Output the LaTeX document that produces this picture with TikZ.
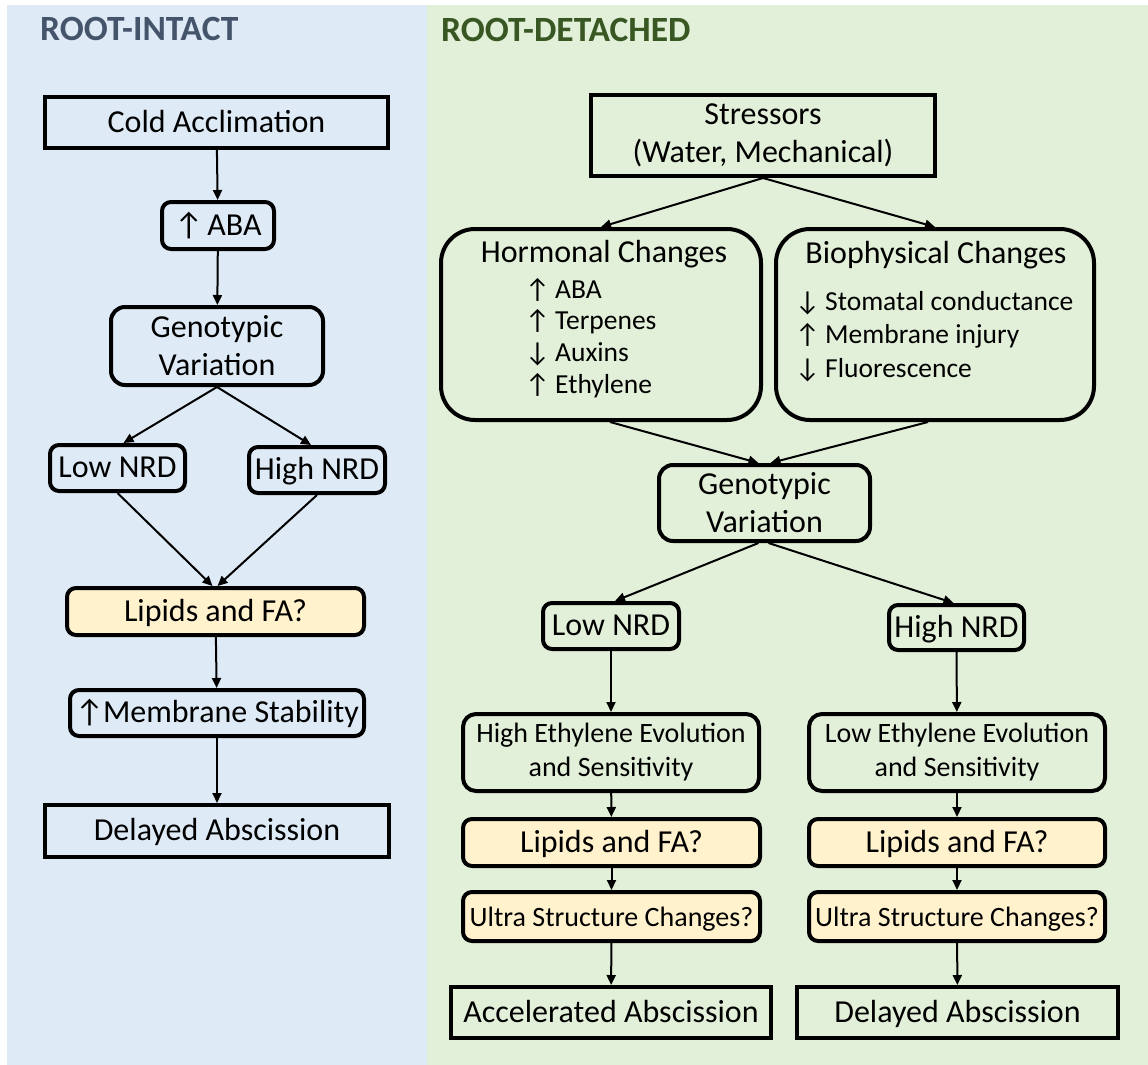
\documentclass[tikz,border=0pt]{standalone}
\usepackage{fontspec}
\setmainfont{Carlito}
\usetikzlibrary{arrows.meta}

\definecolor{intactbg}{HTML}{DEEBF7}
\definecolor{detachbg}{HTML}{E2F0D9}
\definecolor{queryfill}{HTML}{FFF2CC}
\definecolor{intacttitle}{HTML}{44546A}
\definecolor{detachtitle}{HTML}{385723}

% fixed-width arrow marks in front of list entries
\newcommand\arrup[1][30pt]{\makebox[#1][l]{↑}}
\newcommand\arrdn[1][30pt]{\makebox[#1][l]{↓}}

\tikzset{
  boxbase/.style={draw=black, line width=4pt, inner sep=0pt, align=center,
                  font=\fontsize{32}{38}\selectfont},
  oneline/.style={text height=23pt, text depth=4pt},
  sqbox/.style={boxbase},
  rbox/.style={boxbase, rounded corners=9pt},
  qbox/.style={rbox, fill=queryfill},
  bigbox/.style={boxbase, rounded corners=34pt},
  smalltext/.style={font=\fontsize{28}{34}\selectfont},
  listitem/.style={anchor=base west, inner sep=0pt, font=\fontsize{27.5}{32}\selectfont},
  boxtitle/.style={anchor=base, inner sep=0pt, font=\fontsize{32}{38}\selectfont},
  paneltitle/.style={anchor=base west, inner sep=0pt, font=\bfseries\fontsize{35.5}{40}\selectfont},
  link/.style={draw=black, line width=2pt, -{Triangle[length=10pt,width=9pt]}},
}

\begin{document}
\begin{tikzpicture}[x=1pt,y=-1pt]
\useasboundingbox (0,0) rectangle (1148,1065);
\fill[white] (0,0) rectangle (1148,1065);
\fill[intactbg] (7,5) rectangle (427,1065);
\fill[detachbg] (427,5) rectangle (1148,1065);

\node[paneltitle, text=intacttitle] (ttlintact) at (40,41) {ROOT-INTACT};
\node[paneltitle, text=detachtitle] (ttldetach) at (441,42) {ROOT-DETACHED};

% ---------- root-intact pathway ----------
\node[sqbox, oneline, minimum width=343pt, minimum height=51pt] (cold) at (216.5,122.5) {Cold Acclimation};
\node[rbox, oneline, minimum width=112pt, minimum height=47pt] (aba) at (218,225.5) {\arrup[33pt]ABA};
\node[rbox, rounded corners=14pt, minimum width=212pt, minimum height=78pt] (genoA) at (217,346) {Genotypic\\Variation};
\node[rbox, oneline, minimum width=135pt, minimum height=46pt] (lowA) at (117.5,468) {Low NRD};
\node[rbox, oneline, minimum width=136pt, minimum height=46pt] (highA) at (317,470) {High NRD};
\node[qbox, oneline, minimum width=297pt, minimum height=47pt] (lipA) at (215.5,611.5) {Lipids and FA?};
\node[rbox, oneline, minimum width=294pt, minimum height=46pt] (memA) at (217,713) {\arrup[28pt]Membrane Stability};
\node[sqbox, oneline, minimum width=344pt, minimum height=52pt] (delA) at (217,831) {Delayed Abscission};

\draw[link] (cold) -- (aba);
\draw[link] (aba) -- (genoA);
\draw[link] (genoA.south) -- ([xshift=6pt]lowA.north);
\draw[link] (genoA.south) -- ([xshift=-6pt]highA.north);
\draw[link] (lowA.south) -- ([xshift=-3pt]lipA.north);
\draw[link] (highA.south) -- ([xshift=2pt]lipA.north);
\draw[link] (lipA) -- (memA);
\draw[link] (memA) -- (delA);

% ---------- root-detached pathway ----------
\node[sqbox, minimum width=344pt, minimum height=81pt] (stress) at (763,135.5) {Stressors\\(Water, Mechanical)};

\node[bigbox, minimum width=320pt, minimum height=191pt] (horm) at (601,324.5) {};
\node[boxtitle] (hormttl) at (604,262) {Hormonal Changes};
\node[listitem] (hA) at (525,298) {\arrup ABA};
\node[listitem] (hB) at (525,329.5) {\arrup Terpenes};
\node[listitem] (hC) at (525,361) {\arrdn Auxins};
\node[listitem] (hD) at (525,393) {\arrup Ethylene};

\node[bigbox, minimum width=318pt, minimum height=191pt] (bio) at (935,324.5) {};
\node[boxtitle] (biottl) at (936,263) {Biophysical Changes};
\node[listitem] (bA) at (795,310) {\arrdn Stomatal conductance};
\node[listitem] (bB) at (795,343) {\arrup Membrane injury};
\node[listitem] (bC) at (795,377) {\arrdn Fluorescence};

\node[rbox, rounded corners=14pt, minimum width=211pt, minimum height=76pt] (genoB) at (764.5,503) {Genotypic\\Variation};
\node[rbox, oneline, minimum width=136pt, minimum height=46pt] (lowB) at (611,626) {Low NRD};
\node[rbox, oneline, minimum width=135pt, minimum height=45pt] (highB) at (956.5,627.5) {High NRD};

\node[rbox, rounded corners=13pt, smalltext, minimum width=296pt, minimum height=77pt] (ethA) at (611,752.5) {High Ethylene Evolution\\and Sensitivity};
\node[rbox, rounded corners=13pt, smalltext, minimum width=296pt, minimum height=77pt] (ethB) at (957,752.5) {Low Ethylene Evolution\\and Sensitivity};

\node[qbox, oneline, minimum width=297pt, minimum height=47pt] (lipB) at (611.5,842.5) {Lipids and FA?};
\node[qbox, oneline, minimum width=296pt, minimum height=47pt] (lipC) at (957,842.5) {Lipids and FA?};

\node[qbox, oneline, smalltext, minimum width=297pt, minimum height=49pt] (ultA) at (611.5,916.5) {Ultra Structure Changes?};
\node[qbox, oneline, smalltext, minimum width=296pt, minimum height=49pt] (ultB) at (957,916.5) {Ultra Structure Changes?};

\node[sqbox, oneline, minimum width=320pt, minimum height=51pt] (accB) at (611,1012.5) {Accelerated Abscission};
\node[sqbox, oneline, minimum width=321pt, minimum height=51pt] (delB) at (957.5,1012.5) {Delayed Abscission};

\draw[link] (stress.south) -- (horm.north);
\draw[link] (stress.south) -- (bio.north);
\draw[link] ([xshift=9pt]horm.south) -- ([xshift=-6pt]genoB.north);
\draw[link] ([xshift=-7pt]bio.south) -- ([xshift=6pt]genoB.north);
\draw[link] ([xshift=-6pt]genoB.south) -- ([xshift=4pt]lowB.north);
\draw[link] ([xshift=4pt]genoB.south) -- ([xshift=-3pt]highB.north);

\draw[link] (lowB) -- (ethA);
\draw[link] (ethA) -- (lipB);
\draw[link] (lipB) -- (ultA);
\draw[link] (ultA) -- (accB);

\draw[link] (highB) -- (ethB);
\draw[link] (ethB) -- (lipC);
\draw[link] (lipC) -- (ultB);
\draw[link] (ultB) -- (delB);
\end{tikzpicture}
\end{document}
